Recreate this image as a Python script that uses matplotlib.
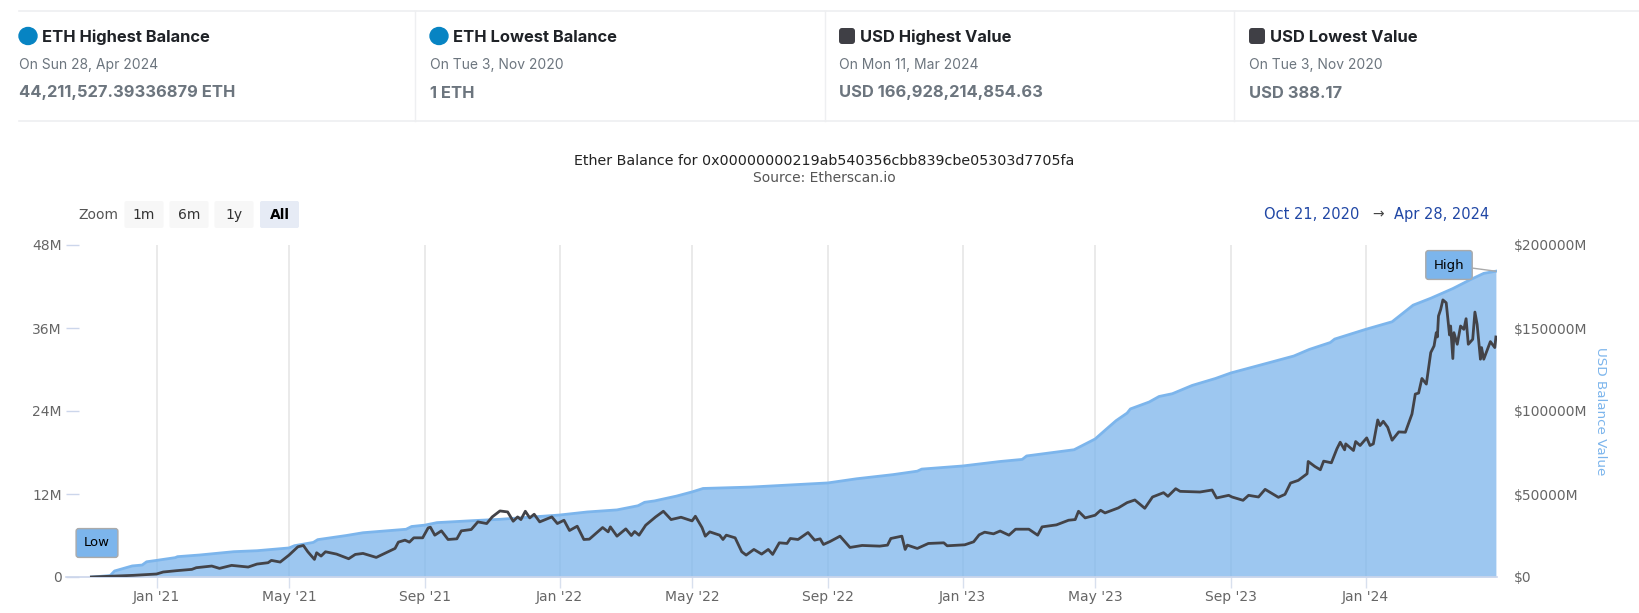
import pandas as pd
import matplotlib.pyplot as plt
from matplotlib.patches import FancyBboxPatch, Ellipse

eth_dates = ['2020-11-03', '2020-11-20', '2020-11-24', '2020-12-10', '2020-12-19', '2020-12-23', '2021-01-01',
             '2021-01-18', '2021-01-20', '2021-02-09', '2021-03-12', '2021-04-02', '2021-05-01', '2021-05-06',
             '2021-05-23', '2021-05-27', '2021-06-22', '2021-07-07', '2021-08-15', '2021-08-20', '2021-09-01',
             '2021-09-12', '2021-10-15', '2021-11-08', '2022-01-01', '2022-01-26', '2022-02-22', '2022-03-13',
             '2022-03-19', '2022-03-28', '2022-04-17', '2022-05-01', '2022-05-11', '2022-06-23', '2022-09-01',
             '2022-09-27', '2022-10-30', '2022-11-21', '2022-11-25', '2023-01-01', '2023-02-04', '2023-02-24',
             '2023-02-28', '2023-04-12', '2023-05-01', '2023-05-11', '2023-05-20', '2023-05-30', '2023-06-02',
             '2023-06-19', '2023-06-28', '2023-07-10', '2023-07-28', '2023-08-18', '2023-09-01', '2023-10-06',
             '2023-10-28', '2023-11-11', '2023-11-30', '2023-12-04', '2024-01-01', '2024-01-25', '2024-02-13',
             '2024-02-29', '2024-03-20', '2024-04-05', '2024-04-17', '2024-04-28']
eth_balance = [0.000001, 0.2, 0.87, 1.6, 1.73, 2.2, 2.4,
               2.8, 2.94, 3.18, 3.66, 3.8, 4.2, 4.53,
               5.0, 5.4, 6.0, 6.4, 6.9, 7.3, 7.5,
               7.86, 8.15, 8.34, 8.96, 9.4, 9.7, 10.3,
               10.8, 11.0, 11.7, 12.3, 12.8, 13.0, 13.6,
               14.2, 14.8, 15.3, 15.6, 16.05, 16.7, 17.0,
               17.5, 18.4, 19.95, 21.35, 22.6, 23.7, 24.3,
               25.3, 26.1, 26.5, 27.7, 28.7, 29.5, 31.0,
               31.95, 32.9, 33.9, 34.4, 35.8, 36.9, 39.3,
               40.3, 41.7, 43.0, 43.9, 44.21]

usd_dates = ['2020-11-03', '2020-12-11', '2021-01-01', '2021-01-07', '2021-01-19', '2021-02-02', '2021-02-06',
             '2021-02-20', '2021-02-27', '2021-03-10', '2021-03-25', '2021-04-02', '2021-04-12', '2021-04-15',
             '2021-04-23', '2021-05-01', '2021-05-09', '2021-05-14', '2021-05-18', '2021-05-24', '2021-05-26',
             '2021-05-30', '2021-06-03', '2021-06-13', '2021-06-24', '2021-06-30', '2021-07-07', '2021-07-19',
             '2021-08-05', '2021-08-08', '2021-08-14', '2021-08-18', '2021-08-22', '2021-08-30', '2021-09-04',
             '2021-09-06', '2021-09-10', '2021-09-16', '2021-09-22', '2021-09-30', '2021-10-04', '2021-10-13',
             '2021-10-19', '2021-10-27', '2021-11-01', '2021-11-08', '2021-11-15', '2021-11-20', '2021-11-24',
             '2021-11-27', '2021-12-01', '2021-12-05', '2021-12-09', '2021-12-14', '2021-12-25', '2021-12-30',
             '2022-01-05', '2022-01-10', '2022-01-17', '2022-01-23', '2022-01-28', '2022-02-09', '2022-02-14',
             '2022-02-16', '2022-02-22', '2022-03-02', '2022-03-07', '2022-03-10', '2022-03-14', '2022-03-20',
             '2022-03-29', '2022-04-05', '2022-04-12', '2022-04-21', '2022-05-01', '2022-05-04', '2022-05-10',
             '2022-05-13', '2022-05-17', '2022-05-26', '2022-05-29', '2022-06-01', '2022-06-09', '2022-06-15',
             '2022-06-19', '2022-06-26', '2022-07-03', '2022-07-09', '2022-07-13', '2022-07-19', '2022-07-26',
             '2022-07-29', '2022-08-05', '2022-08-14', '2022-08-20', '2022-08-25', '2022-08-28', '2022-09-03',
             '2022-09-12', '2022-09-21', '2022-10-02', '2022-10-18', '2022-10-25', '2022-10-28', '2022-11-07',
             '2022-11-10', '2022-11-12', '2022-11-21', '2022-12-01', '2022-12-15', '2022-12-18', '2023-01-03',
             '2023-01-11', '2023-01-16', '2023-01-21', '2023-01-29', '2023-02-04', '2023-02-12', '2023-02-18',
             '2023-03-02', '2023-03-10', '2023-03-14', '2023-03-27', '2023-04-07', '2023-04-13', '2023-04-16',
             '2023-04-22', '2023-05-01', '2023-05-06', '2023-05-10', '2023-05-22', '2023-05-30', '2023-06-06',
             '2023-06-15', '2023-06-22', '2023-07-02', '2023-07-06', '2023-07-13', '2023-07-17', '2023-08-04',
             '2023-08-15', '2023-08-19', '2023-08-30', '2023-09-02', '2023-09-12', '2023-09-17', '2023-09-26',
             '2023-10-02', '2023-10-14', '2023-10-20', '2023-10-25', '2023-11-01', '2023-11-09', '2023-11-10',
             '2023-11-16', '2023-11-21', '2023-11-24', '2023-12-01', '2023-12-06', '2023-12-09', '2023-12-13',
             '2023-12-14', '2023-12-21', '2023-12-23', '2023-12-27', '2024-01-02', '2024-01-05', '2024-01-08',
             '2024-01-12', '2024-01-14', '2024-01-17', '2024-01-21', '2024-01-25', '2024-01-31', '2024-02-06',
             '2024-02-12', '2024-02-15', '2024-02-18', '2024-02-21', '2024-02-25', '2024-02-29', '2024-03-03',
             '2024-03-05', '2024-03-06', '2024-03-07', '2024-03-09', '2024-03-11', '2024-03-14', '2024-03-17',
             '2024-03-18', '2024-03-20', '2024-03-21', '2024-03-24', '2024-03-27', '2024-03-30', '2024-04-01',
             '2024-04-03', '2024-04-07', '2024-04-09', '2024-04-11', '2024-04-14', '2024-04-15', '2024-04-17',
             '2024-04-23', '2024-04-27', '2024-04-28']
usd_value = [0.000388, 1000, 1800, 3000, 3800, 4600, 5600,
             6600, 5200, 7000, 6000, 7800, 8600, 10000,
             9000, 13200, 18200, 19000, 15200, 10600, 14600,
             12600, 15200, 13800, 11000, 13600, 14200, 11800,
             17200, 21000, 22200, 21000, 23600, 23600, 29600,
             30000, 25200, 27800, 22600, 23000, 27800, 28600,
             33200, 32200, 36200, 39800, 39200, 33600, 36200,
             34600, 39600, 35600, 37800, 33200, 36200, 32200,
             34200, 28000, 30600, 22600, 22800, 29800, 27200,
             30200, 24600, 29000, 25000, 27400, 25200, 31200,
             36200, 39600, 34600, 36000, 33800, 36600, 29800,
             24600, 27200, 25200, 22600, 25200, 23600, 15200,
             13200, 16600, 13800, 16600, 13600, 20600, 20200,
             23200, 22600, 26800, 22200, 23000, 19600, 21400,
             24600, 17800, 19000, 18600, 19200, 23200, 24600,
             16600, 19200, 17200, 20200, 20600, 18800, 19400,
             21200, 25400, 27000, 26000, 27700, 25200, 28800,
             28800, 25200, 30200, 31400, 34200, 34600, 39600,
             35600, 37200, 40200, 38600, 41600, 44800, 46400,
             41400, 48200, 50800, 48600, 53200, 51600, 51200,
             52400, 47600, 49200, 48200, 46200, 49200, 48200,
             52800, 48000, 49800, 56600, 58200, 62200, 69600,
             66600, 64600, 69800, 68800, 77200, 81200, 76600,
             80200, 76200, 81600, 79200, 83800, 79200, 80200,
             94600, 91200, 93800, 90200, 82400, 87400, 87200,
             98200, 110200, 110800, 119600, 116200, 135200, 139200,
             147200, 144600, 157200, 161200, 166928, 165200, 145800,
             151200, 131600, 147200, 140200, 151200, 149200, 155600,
             140200, 143200, 159600, 152200, 131200, 138200, 131200,
             141800, 138200, 144600]

# Etiquetas de ejes y tarjetas
eth_ticks = [0, 12, 24, 36, 48]
eth_tick_labels = ['0', '12M', '24M', '36M', '48M']
usd_ticks = [0, 50000, 100000, 150000, 200000]
usd_tick_labels = ['$0', '$50000M', '$100000M', '$150000M', '$200000M']
month_ticks = ['2021-01-01', '2021-05-01', '2021-09-01', '2022-01-01', '2022-05-01', '2022-09-01',
               '2023-01-01', '2023-05-01', '2023-09-01', '2024-01-01']
month_labels = ["Jan '21", "May '21", "Sep '21", "Jan '22", "May '22", "Sep '22",
                "Jan '23", "May '23", "Sep '23", "Jan '24"]
card_titles = ['ETH Highest Balance', 'ETH Lowest Balance', 'USD Highest Value', 'USD Lowest Value']
card_dates = ['On Sun 28, Apr 2024', 'On Tue 3, Nov 2020', 'On Mon 11, Mar 2024', 'On Tue 3, Nov 2020']
card_values = ['44,211,527.39336879 ETH', '1 ETH', 'USD 166,928,214,854.63', 'USD 388.17']


def plot_balance():
    print("Dibujando balance de Ether...")

    fig = plt.figure(figsize=(16.4, 6.13), dpi=100)

    # 1. Capa en píxeles para tarjetas, título y botones
    page = fig.add_axes([0, 0, 1, 1])
    page.set_xlim(0, 1640)
    page.set_ylim(613, 0)
    page.axis('off')

    page.plot([19, 1640], [11, 11], color='#eeeff1', lw=1.2)
    page.plot([19, 1640], [121, 121], color='#eeeff1', lw=1.2)
    for x in [415, 825, 1234]:
        page.plot([x, x], [11, 121], color='#eeeff1', lw=1)

    card_x = [19, 430, 839, 1249]
    for i in range(4):
        x = card_x[i]
        if i < 2:
            page.add_patch(Ellipse((x + 9, 36), 18, 17, color='#0784c3'))
            title_x = x + 23
        else:
            page.add_patch(FancyBboxPatch((x + 2, 30), 12, 12, boxstyle='round,pad=2,rounding_size=3',
                                          fc='#3f3f45', ec='none'))
            title_x = x + 21
        page.text(title_x, 37, card_titles[i], family='Inter', fontsize=11.9, fontweight='bold',
                  color='#1f2227', va='center')
        page.text(x, 64.5, card_dates[i], family='Inter', fontsize=10, color='#6c757e', va='center')
        page.text(x, 93, card_values[i], family='Inter', fontsize=11.9, fontweight='bold',
                  color='#6c757e', va='center')

    page.text(824, 161, 'Ether Balance for 0x00000000219ab540356cbb839cbe05303d7705fa', fontsize=10.3,
              color='#222222', ha='center', va='center')
    page.text(824, 178, 'Source: Etherscan.io', fontsize=10, color='#555555', ha='center', va='center')

    # 2. Botones de zoom y rango de fechas
    page.text(98, 215, 'Zoom', fontsize=10, color='#555555', ha='center', va='center')
    button_x = [124.5, 169.5, 214.5, 260]
    button_text = ['1m', '6m', '1y', 'All']
    for i in range(4):
        active = button_text[i] == 'All'
        page.add_patch(FancyBboxPatch((button_x[i] + 2, 203), 35, 23, boxstyle='round,pad=2,rounding_size=2',
                                      fc='#e6ebf5' if active else '#f7f7f7', ec='none'))
        page.text(button_x[i] + 19.5, 215, button_text[i], fontsize=10, ha='center', va='center',
                  color='black' if active else '#333333', fontweight='bold' if active else 'normal')
    page.text(1312, 214.5, 'Oct 21, 2020', fontsize=10.5, color='#2047a5', ha='center', va='center')
    page.text(1378, 214.5, '→', fontsize=10, color='#444444', ha='center', va='center')
    page.text(1442, 214.5, 'Apr 28, 2024', fontsize=10.5, color='#2047a5', ha='center', va='center')

    # 3. Ejes del gráfico
    ax = fig.add_axes([66 / 1640, 1 - 577 / 613, (1497 - 66) / 1640, 332 / 613])
    ax.patch.set_alpha(0)
    eth_x = pd.to_datetime(eth_dates)
    usd_x = pd.to_datetime(usd_dates)
    month_x = pd.to_datetime(month_ticks)

    ax.fill_between(eth_x, eth_balance, 0, color='#7cb5ec', alpha=0.75, lw=0, zorder=2)
    ax.plot(eth_x, eth_balance, color='#7cb5ec', lw=2, zorder=3)
    ax.set_xlim(pd.Timestamp('2020-10-11'), pd.Timestamp('2024-04-29'))
    ax.set_ylim(0, 48)

    ax.set_xticks(month_x)
    ax.set_xticklabels(month_labels, fontsize=10, color='#666666')
    ax.tick_params(axis='x', length=8, width=1, color='#d8e0ee', pad=1)
    ax.grid(True, axis='x', color='#e6e6e6', lw=1.2, zorder=1)

    ax.set_yticks(eth_ticks)
    ax.set_yticklabels(eth_tick_labels, fontsize=10, color='#666666')
    ax.tick_params(axis='y', direction='in', length=9, width=1, color='#ccd6eb', pad=3)
    for side in ['top', 'right', 'left']:
        ax.spines[side].set_visible(False)
    ax.spines['bottom'].set_color('#ccd6eb')
    ax.spines['bottom'].set_linewidth(1.2)

    # Eje derecho con el valor en USD
    ax2 = ax.twinx()
    ax2.plot(usd_x, usd_value, color='#434348', lw=2, zorder=4)
    ax2.set_ylim(0, 200000)
    ax2.set_yticks(usd_ticks)
    ax2.set_yticklabels(usd_tick_labels, fontsize=10, color='#666666')
    ax2.tick_params(axis='y', length=0, pad=12)
    for side in ['top', 'right', 'left', 'bottom']:
        ax2.spines[side].set_visible(False)
    ax2.set_ylabel('USD Balance Value', fontsize=9.7, color='#7cb5ec', rotation=270, labelpad=14)

    # 4. Banderas High / Low
    flag_box = dict(boxstyle='round,pad=0.6,rounding_size=0.2', fc='#7cb5ec', ec='#aaaaaa')
    ax2.annotate('High', xy=(eth_x[-1], eth_balance[-1] * 200000 / 48), xytext=(1449, 265),
                 textcoords=page.transData, fontsize=9.5, color='black', ha='center', va='center',
                 zorder=6, bbox=flag_box,
                 arrowprops=dict(arrowstyle='-', color='#aaaaaa', lw=1, shrinkA=0, shrinkB=0))
    ax2.annotate('Low', xy=(eth_x[0], eth_balance[0]), xytext=(97, 543), textcoords=page.transData,
                 fontsize=9.5, color='black', ha='center', va='center', zorder=6, bbox=flag_box)

    plt.savefig('out.png', dpi=100)
    plt.close()
    print("Listo: out.png")


if __name__ == "__main__":
    plot_balance()
